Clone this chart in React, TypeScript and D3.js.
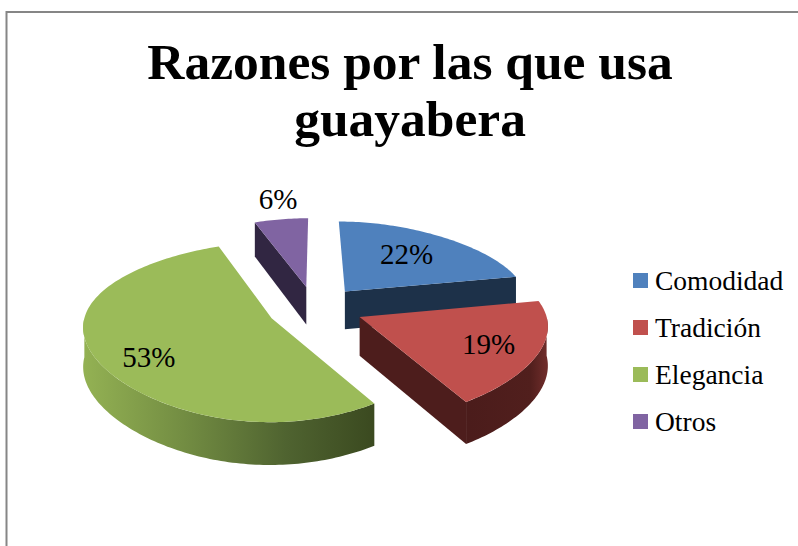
import React from "react";
import * as d3 from "d3";

const categories = ["Comodidad", "Tradición", "Elegancia", "Otros"];
const shares = [22, 19, 53, 6];
const topColors = ["#4f81bd", "#c0504d", "#9bbb59", "#8064a2"];
const wallColors = ["#1d3149", "url(#wallRed)", "url(#wallGreen)", "#312642"];
const faceColors = ["#1d3149", "#4d1d1c", "#3c4a20", "#312642"];
const titleLines = ["Razones por las que usa", "guayabera"];

const cx = 315, cy = 308, RX = 184, RY = 85, K = 0.15, EXPLODE = 0.26, DEPTH = 38.5;
const labelRadius = [0.64, 0.75, 0.75, 1.3];
const labelNudge = [[-3, 0], [-4, 0], [7, 8], [0, -3]];

type P = [number, number];
const project = (u: number, v: number, z = 0): P => {
  const w = 1 - K * v;
  const fx = 1.005 + 0.115 * v - 0.06 * v * v;
  return [cx + RX * u * fx, cy + (RY * v) / w + z * DEPTH * (1 + 0.1 * v)];
};
const pathOf = d3.line<P>().x((d) => d[0]).y((d) => d[1]);

export default function App() {
  const arcs = d3.pie<number>().sort(null).value((d) => d)(shares);
  const slices = arcs.map((a, i) => {
    const mid = (a.startAngle + a.endAngle) / 2;
    const ou = EXPLODE * Math.sin(mid), ov = -EXPLODE * Math.cos(mid);
    const at = (t: number, r = 1, z = 0) => project(ou + r * Math.sin(t), ov - r * Math.cos(t), z);
    const sweep = (from: number, to: number, z = 0) => {
      const n = Math.max(2, Math.ceil((to - from) / 0.02));
      return d3.range(n + 1).map((k) => at(from + ((to - from) * k) / n, 1, z));
    };
    const top = [at(0, 0), ...sweep(a.startAngle, a.endAngle)];
    const a0 = Math.max(a.startAngle, Math.PI / 2), a1 = Math.min(a.endAngle, (3 * Math.PI) / 2);
    const wall = a1 > a0 ? [...sweep(a0, a1), ...sweep(a0, a1, 1).reverse()] : null;
    const faces: P[][] = [];
    const radial = (t: number) => [at(0, 0), at(t), at(t, 1, 1), at(0, 0, 1)] as P[];
    if (Math.sin(a.startAngle) < -1e-6) faces.push(radial(a.startAngle));
    if (Math.sin(a.endAngle) > 1e-6) faces.push(radial(a.endAngle));
    const label = at(mid, labelRadius[i]);
    return { i, top, wall, faces, label: [label[0] + labelNudge[i][0], label[1] + labelNudge[i][1]] };
  });
  const legendY = d3.scalePoint<string>().domain(categories).range([280.5, 421.5]);
  const serif = "'Liberation Serif', serif";
  return (
    <svg width={798} height={546} style={{ position: "absolute", left: 0, top: 0, background: "#fff" }}>
      <defs>
        <linearGradient id="wallGreen" gradientUnits="userSpaceOnUse" x1={85} x2={373} y1={0} y2={0}>
          <stop offset="0" stopColor="#93b153" />
          <stop offset="0.35" stopColor="#728c42" />
          <stop offset="0.7" stopColor="#4f6330" />
          <stop offset="1" stopColor="#3b4a20" />
        </linearGradient>
        <linearGradient id="wallRed" gradientUnits="userSpaceOnUse" x1={469} x2={546} y1={0} y2={0}>
          <stop offset="0" stopColor="#4b1c1b" />
          <stop offset="0.8" stopColor="#511f1d" />
          <stop offset="1" stopColor="#6e2c2a" />
        </linearGradient>
      </defs>
      <path d="M6.5 546V12H798" fill="none" stroke="#868686" strokeWidth={2} />
      {titleLines.map((t, i) => (
        <text key={t} x={410} y={79 + i * 57} textAnchor="middle" fontFamily={serif} fontWeight="bold" fontSize={51.5} fill="#000">
          {t}
        </text>
      ))}
      {[3, 0, 2, 1].map((i) => {
        const s = slices[i];
        return (
          <g key={i}>
            {s.faces.map((f, j) => (
              <path key={j} d={pathOf(f) + "Z"} fill={faceColors[i]} />
            ))}
            {s.wall && <path d={pathOf(s.wall) + "Z"} fill={wallColors[i]} />}
            <path d={pathOf(s.top) + "Z"} fill={topColors[i]} />
          </g>
        );
      })}
      {slices.map((s) => (
        <text key={s.i} x={s.label[0]} y={s.label[1] + 9.5} textAnchor="middle" fontFamily={serif} fontSize={29} fill="#000">
          {shares[s.i]}%
        </text>
      ))}
      {categories.map((c, i) => (
        <g key={c}>
          <rect x={633} y={legendY(c)! - 7.5} width={15} height={15} fill={topColors[i]} />
          <text x={655} y={legendY(c)! + 9.5} fontFamily={serif} fontSize={27.5} fill="#000">
            {c}
          </text>
        </g>
      ))}
    </svg>
  );
}
